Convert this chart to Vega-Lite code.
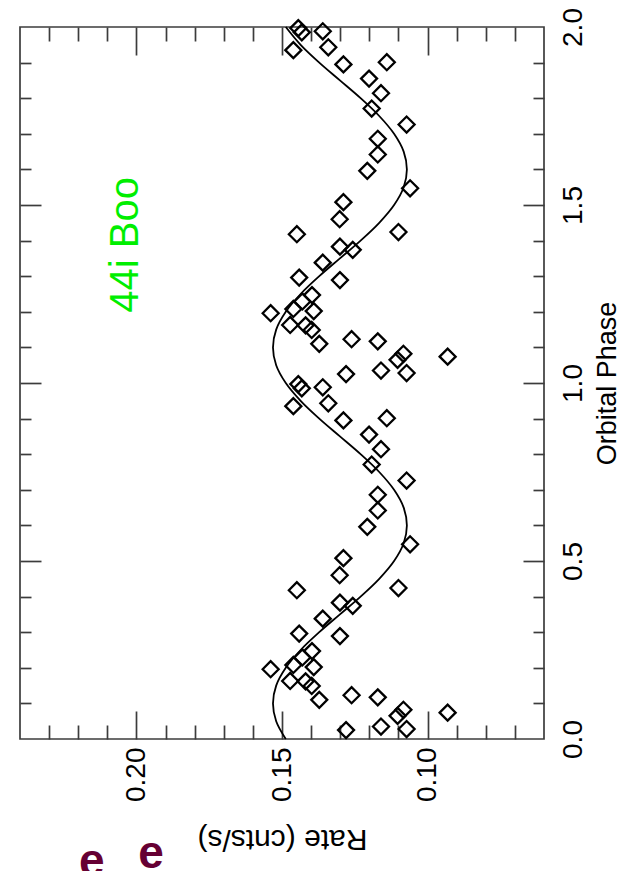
{
  "$schema": "https://vega.github.io/schema/vega-lite/v6.json",
  "width": 524,
  "height": 712,
  "autosize": {"type": "none"},
  "padding": {"left": 20, "top": 27, "right": 78, "bottom": 132},
  "background": "white",
  "config": {
    "view": {"stroke": "#3c3c3c", "strokeWidth": 1.7},
    "axis": {"domain": false, "grid": false, "labelFont": "Liberation Sans", "titleFont": "Liberation Sans", "labelColor": "black", "titleColor": "black", "tickColor": "#3c3c3c", "tickWidth": 1.7, "labelFlush": false, "labelOverlap": false, "labelBound": false, "titleFontWeight": "normal"}
  },
  "datasets": {
    "obs": [
      {"phase": 0.935, "rate": 0.1461}, {"phase": 0.985, "rate": 0.1432}, {"phase": 0.997, "rate": 0.1444}, {"phase": 0.988, "rate": 0.1360},
      {"phase": 0.943, "rate": 0.1341}, {"phase": 0.895, "rate": 0.1289}, {"phase": 0.901, "rate": 0.1140}, {"phase": 0.855, "rate": 0.1201},
      {"phase": 0.814, "rate": 0.1160}, {"phase": 0.771, "rate": 0.1192}, {"phase": 0.726, "rate": 0.1072}, {"phase": 0.686, "rate": 0.1171},
      {"phase": 0.642, "rate": 0.1171}, {"phase": 0.596, "rate": 0.1207}, {"phase": 0.547, "rate": 0.1060}, {"phase": 0.508, "rate": 0.1289},
      {"phase": 0.460, "rate": 0.1302}, {"phase": 0.418, "rate": 0.1449}, {"phase": 0.424, "rate": 0.1100}, {"phase": 0.383, "rate": 0.1301},
      {"phase": 0.374, "rate": 0.1257}, {"phase": 0.338, "rate": 0.1360}, {"phase": 0.296, "rate": 0.1441}, {"phase": 0.289, "rate": 0.1301},
      {"phase": 0.247, "rate": 0.1397}, {"phase": 0.229, "rate": 0.1430}, {"phase": 0.196, "rate": 0.1539}, {"phase": 0.208, "rate": 0.1461},
      {"phase": 0.202, "rate": 0.1391}, {"phase": 0.163, "rate": 0.1472}, {"phase": 0.162, "rate": 0.1419}, {"phase": 0.149, "rate": 0.1398},
      {"phase": 0.110, "rate": 0.1372}, {"phase": 0.123, "rate": 0.1261}, {"phase": 0.117, "rate": 0.1171}, {"phase": 0.082, "rate": 0.1083},
      {"phase": 0.065, "rate": 0.1103}, {"phase": 0.074, "rate": 0.0931}, {"phase": 0.025, "rate": 0.1280}, {"phase": 0.035, "rate": 0.1160},
      {"phase": 0.028, "rate": 0.1072},
      {"phase": 1.935, "rate": 0.1461}, {"phase": 1.985, "rate": 0.1432}, {"phase": 1.997, "rate": 0.1444}, {"phase": 1.988, "rate": 0.1360},
      {"phase": 1.943, "rate": 0.1341}, {"phase": 1.895, "rate": 0.1289}, {"phase": 1.901, "rate": 0.1140}, {"phase": 1.855, "rate": 0.1201},
      {"phase": 1.814, "rate": 0.1160}, {"phase": 1.771, "rate": 0.1192}, {"phase": 1.726, "rate": 0.1072}, {"phase": 1.686, "rate": 0.1171},
      {"phase": 1.642, "rate": 0.1171}, {"phase": 1.596, "rate": 0.1207}, {"phase": 1.547, "rate": 0.1060}, {"phase": 1.508, "rate": 0.1289},
      {"phase": 1.460, "rate": 0.1302}, {"phase": 1.418, "rate": 0.1449}, {"phase": 1.424, "rate": 0.1100}, {"phase": 1.383, "rate": 0.1301},
      {"phase": 1.374, "rate": 0.1257}, {"phase": 1.338, "rate": 0.1360}, {"phase": 1.296, "rate": 0.1441}, {"phase": 1.289, "rate": 0.1301},
      {"phase": 1.247, "rate": 0.1397}, {"phase": 1.229, "rate": 0.1430}, {"phase": 1.196, "rate": 0.1539}, {"phase": 1.208, "rate": 0.1461},
      {"phase": 1.202, "rate": 0.1391}, {"phase": 1.163, "rate": 0.1472}, {"phase": 1.162, "rate": 0.1419}, {"phase": 1.149, "rate": 0.1398},
      {"phase": 1.110, "rate": 0.1372}, {"phase": 1.123, "rate": 0.1261}, {"phase": 1.117, "rate": 0.1171}, {"phase": 1.082, "rate": 0.1083},
      {"phase": 1.065, "rate": 0.1103}, {"phase": 1.074, "rate": 0.0931}, {"phase": 1.025, "rate": 0.1280}, {"phase": 1.035, "rate": 0.1160},
      {"phase": 1.028, "rate": 0.1072}
    ],
    "fit": [
      {"phase": 0.00, "rate": 0.1487}, {"phase": 0.05, "rate": 0.1520}, {"phase": 0.10, "rate": 0.1531}, {"phase": 0.15, "rate": 0.1520},
      {"phase": 0.20, "rate": 0.1487}, {"phase": 0.25, "rate": 0.1436}, {"phase": 0.30, "rate": 0.1372}, {"phase": 0.35, "rate": 0.1301},
      {"phase": 0.40, "rate": 0.1230}, {"phase": 0.45, "rate": 0.1166}, {"phase": 0.50, "rate": 0.1115}, {"phase": 0.55, "rate": 0.1082},
      {"phase": 0.60, "rate": 0.1071}, {"phase": 0.65, "rate": 0.1082}, {"phase": 0.70, "rate": 0.1115}, {"phase": 0.75, "rate": 0.1166},
      {"phase": 0.80, "rate": 0.1230}, {"phase": 0.85, "rate": 0.1301}, {"phase": 0.90, "rate": 0.1372}, {"phase": 0.95, "rate": 0.1436},
      {"phase": 1.00, "rate": 0.1487}, {"phase": 1.05, "rate": 0.1520}, {"phase": 1.10, "rate": 0.1531}, {"phase": 1.15, "rate": 0.1520},
      {"phase": 1.20, "rate": 0.1487}, {"phase": 1.25, "rate": 0.1436}, {"phase": 1.30, "rate": 0.1372}, {"phase": 1.35, "rate": 0.1301},
      {"phase": 1.40, "rate": 0.1230}, {"phase": 1.45, "rate": 0.1166}, {"phase": 1.50, "rate": 0.1115}, {"phase": 1.55, "rate": 0.1082},
      {"phase": 1.60, "rate": 0.1071}, {"phase": 1.65, "rate": 0.1082}, {"phase": 1.70, "rate": 0.1115}, {"phase": 1.75, "rate": 0.1166},
      {"phase": 1.80, "rate": 0.1230}, {"phase": 1.85, "rate": 0.1301}, {"phase": 1.90, "rate": 0.1372}, {"phase": 1.95, "rate": 0.1436},
      {"phase": 2.00, "rate": 0.1487}
    ],
    "labels": [
      {"phase": 1.388, "rate": 0.2036, "text": "44i Boo"}
    ],
    "frags": [
      {"phase": -0.385, "rate": 0.2153, "text": "e"},
      {"phase": -0.362, "rate": 0.1950, "text": "e"}
    ]
  },
  "layer": [
    {
      "data": {"name": "obs"},
      "mark": {"type": "point", "shape": "diamond", "filled": false, "stroke": "black", "strokeWidth": 2.3, "size": 256, "opacity": 1},
      "encoding": {
        "x": {"field": "rate", "type": "quantitative", "scale": {"domain": [0.06, 0.24], "reverse": true, "zero": false, "nice": false},
              "axis": {"orient": "bottom", "values": [0.10, 0.15, 0.20], "format": ".2f", "ticks": false, "labelAngle": 270, "labelFontSize": 28, "labelPadding": 8,
                       "title": "Rate (cnts/s)", "titleFontSize": 30, "titleAngle": 180, "titleBaseline": "bottom", "titlePadding": 22}},
        "y": {"field": "phase", "type": "quantitative", "scale": {"domain": [0, 2], "zero": false, "nice": false},
              "axis": {"orient": "right", "values": [0, 0.5, 1, 1.5, 2], "format": ".1f", "ticks": false, "labelAngle": 270, "labelFontSize": 28, "labelPadding": 15,
                       "title": "Orbital Phase", "titleFontSize": 27, "titleAngle": 270, "titleBaseline": "top", "titlePadding": 7}}
      }
    },
    {
      "data": {"name": "fit"},
      "mark": {"type": "line", "color": "black", "strokeWidth": 1.8, "interpolate": "catmull-rom"},
      "encoding": {
        "x": {"field": "rate", "type": "quantitative", "scale": {"domain": [0.06, 0.24], "reverse": true, "zero": false, "nice": false},
              "axis": {"orient": "bottom", "values": [0.10, 0.15, 0.20], "labels": false, "tickSize": -28, "title": null}},
        "y": {"field": "phase", "type": "quantitative", "scale": {"domain": [0, 2], "zero": false, "nice": false},
              "axis": {"orient": "right", "values": [0.5, 1, 1.5], "labels": false, "tickSize": -21, "title": null}},
        "order": {"field": "phase", "type": "quantitative"}
      }
    },
    {
      "data": {"name": "fit"},
      "mark": {"type": "point", "opacity": 0},
      "encoding": {
        "x": {"field": "rate", "type": "quantitative", "scale": {"domain": [0.06, 0.24], "reverse": true, "zero": false, "nice": false},
              "axis": {"orient": "bottom", "values": [0.07, 0.08, 0.09, 0.11, 0.12, 0.13, 0.14, 0.16, 0.17, 0.18, 0.19, 0.21, 0.22, 0.23], "labels": false, "tickSize": -14, "title": null}},
        "y": {"field": "phase", "type": "quantitative", "scale": {"domain": [0, 2], "zero": false, "nice": false},
              "axis": {"orient": "right", "values": [0.1, 0.2, 0.3, 0.4, 0.6, 0.7, 0.8, 0.9, 1.1, 1.2, 1.3, 1.4, 1.6, 1.7, 1.8, 1.9], "labels": false, "tickSize": -11, "title": null}}
      }
    },
    {
      "data": {"name": "fit"},
      "mark": {"type": "point", "opacity": 0},
      "encoding": {
        "x": {"field": "rate", "type": "quantitative", "scale": {"domain": [0.06, 0.24], "reverse": true, "zero": false, "nice": false},
              "axis": {"orient": "top", "values": [0.10, 0.15, 0.20], "labels": false, "tickSize": -28, "title": null}},
        "y": {"field": "phase", "type": "quantitative", "scale": {"domain": [0, 2], "zero": false, "nice": false},
              "axis": {"orient": "left", "values": [0.5, 1, 1.5], "labels": false, "tickSize": -21, "title": null}}
      }
    },
    {
      "data": {"name": "fit"},
      "mark": {"type": "point", "opacity": 0},
      "encoding": {
        "x": {"field": "rate", "type": "quantitative", "scale": {"domain": [0.06, 0.24], "reverse": true, "zero": false, "nice": false},
              "axis": {"orient": "top", "values": [0.07, 0.08, 0.09, 0.11, 0.12, 0.13, 0.14, 0.16, 0.17, 0.18, 0.19, 0.21, 0.22, 0.23], "labels": false, "tickSize": -14, "title": null}},
        "y": {"field": "phase", "type": "quantitative", "scale": {"domain": [0, 2], "zero": false, "nice": false},
              "axis": {"orient": "left", "values": [0.1, 0.2, 0.3, 0.4, 0.6, 0.7, 0.8, 0.9, 1.1, 1.2, 1.3, 1.4, 1.6, 1.7, 1.8, 1.9], "labels": false, "tickSize": -11, "title": null}}
      }
    },
    {
      "data": {"name": "labels"},
      "mark": {"type": "text", "angle": 270, "align": "center", "baseline": "middle", "fontSize": 40, "font": "Liberation Sans", "color": "#00ee00"},
      "encoding": {
        "x": {"field": "rate", "type": "quantitative", "scale": {"domain": [0.06, 0.24], "reverse": true, "zero": false, "nice": false}, "axis": null},
        "y": {"field": "phase", "type": "quantitative", "scale": {"domain": [0, 2], "zero": false, "nice": false}, "axis": null},
        "text": {"field": "text"}
      }
    },
    {
      "data": {"name": "frags"},
      "mark": {"type": "text", "align": "center", "baseline": "alphabetic", "fontSize": 46, "fontWeight": "bold", "font": "Liberation Sans", "color": "#660033", "clip": false},
      "encoding": {
        "x": {"field": "rate", "type": "quantitative", "scale": {"domain": [0.06, 0.24], "reverse": true, "zero": false, "nice": false}, "axis": null},
        "y": {"field": "phase", "type": "quantitative", "scale": {"domain": [0, 2], "zero": false, "nice": false}, "axis": null},
        "text": {"field": "text"}
      }
    }
  ],
  "resolve": {"axis": {"x": "independent", "y": "independent"}}
}
